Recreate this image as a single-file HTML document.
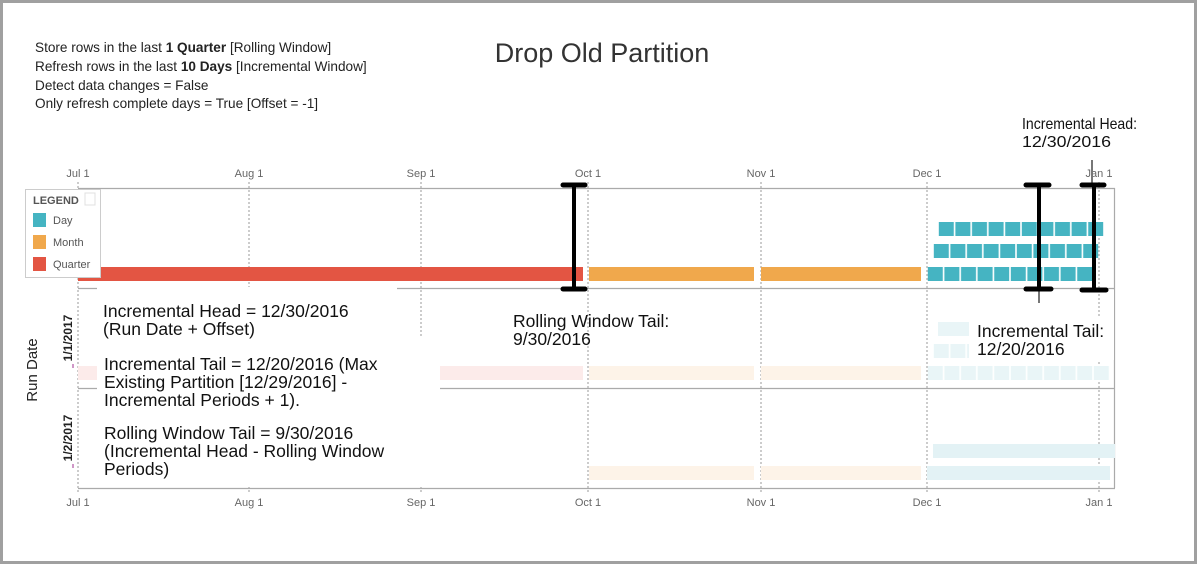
<!DOCTYPE html>
<html><head><meta charset="utf-8"><style>
html,body{margin:0;padding:0;background:#fff}
svg{display:block;font-family:"Segoe UI","Liberation Sans",sans-serif}
</style></head><body>
<svg width="1199" height="566" viewBox="0 0 1199 566" xmlns="http://www.w3.org/2000/svg">
<defs>
<pattern id="d1" x="927" y="0" width="16.6" height="566" patternUnits="userSpaceOnUse"><rect x="0.8" y="0" width="15" height="566" fill="#45b4c2"/></pattern>
<pattern id="d2" x="933" y="0" width="16.6" height="566" patternUnits="userSpaceOnUse"><rect x="0.8" y="0" width="15" height="566" fill="#45b4c2"/></pattern>
<pattern id="d3" x="938" y="0" width="16.6" height="566" patternUnits="userSpaceOnUse"><rect x="0.8" y="0" width="15" height="566" fill="#45b4c2"/></pattern>
<pattern id="f1" x="927" y="0" width="16.6" height="566" patternUnits="userSpaceOnUse"><rect x="0.8" y="0" width="15" height="566" fill="#e9f5f7"/></pattern>
<pattern id="f2" x="933" y="0" width="16.6" height="566" patternUnits="userSpaceOnUse"><rect x="0.8" y="0" width="15" height="566" fill="#e9f5f7"/></pattern>
</defs>
<rect x="0" y="0" width="1199" height="566" fill="#fff"/>
<rect x="1.5" y="1.5" width="1194" height="561" fill="none" stroke="#a0a0a0" stroke-width="3"/>

<g font-size="13.6" fill="#222">
<text x="35" y="52">Store rows in the last <tspan font-weight="bold">1 Quarter</tspan> [Rolling Window]</text>
<text x="35" y="71">Refresh rows in the last <tspan font-weight="bold">10 Days</tspan> [Incremental Window]</text>
<text x="35" y="90">Detect data changes = False</text>
<text x="35" y="108">Only refresh complete days = True [Offset = -1]</text>
</g>
<text x="602" y="62" font-size="27" text-anchor="middle" fill="#333">Drop Old Partition</text>
<text x="1022" y="129" font-size="16" fill="#111" textLength="115" lengthAdjust="spacingAndGlyphs">Incremental Head:</text>
<text x="1022" y="147" font-size="16" fill="#111" textLength="89" lengthAdjust="spacingAndGlyphs">12/30/2016</text>

<g font-size="11" fill="#666" text-anchor="middle">
<text x="78" y="177">Jul 1</text><text x="249" y="177">Aug 1</text><text x="421" y="177">Sep 1</text>
<text x="588" y="177">Oct 1</text><text x="761" y="177">Nov 1</text><text x="927" y="177">Dec 1</text><text x="1099" y="177">Jan 1</text>
<text x="78" y="506">Jul 1</text><text x="249" y="506">Aug 1</text><text x="421" y="506">Sep 1</text>
<text x="588" y="506">Oct 1</text><text x="761" y="506">Nov 1</text><text x="927" y="506">Dec 1</text><text x="1099" y="506">Jan 1</text>
</g>
<g stroke="#999" stroke-dasharray="2,2" stroke-width="1">
<line x1="78" y1="182" x2="78" y2="492"/><line x1="249" y1="182" x2="249" y2="492"/><line x1="421" y1="182" x2="421" y2="492"/>
<line x1="588" y1="182" x2="588" y2="492"/><line x1="761" y1="182" x2="761" y2="492"/><line x1="927" y1="182" x2="927" y2="492"/><line x1="1099" y1="182" x2="1099" y2="492"/>
</g>
<g stroke="#aaa" stroke-width="1.2" fill="none">
<line x1="78" y1="188.5" x2="1115" y2="188.5"/>
<line x1="78" y1="288.5" x2="1115" y2="288.5"/>
<line x1="78" y1="388.5" x2="1115" y2="388.5"/>
<line x1="78" y1="488.5" x2="1115" y2="488.5"/>
<line x1="1114.5" y1="188" x2="1114.5" y2="488"/>
</g>

<rect x="78" y="267" width="505" height="14" fill="#e35543"/>
<rect x="589" y="267" width="165" height="14" fill="#f0a84c"/>
<rect x="761" y="267" width="160" height="14" fill="#f0a84c"/>
<rect x="927" y="267" width="166" height="14" fill="url(#d1)"/>
<rect x="933" y="244" width="166" height="14" fill="url(#d2)"/>
<rect x="938" y="222" width="166" height="14" fill="url(#d3)"/>

<rect x="78" y="366" width="505" height="14" fill="#fcebea"/>
<rect x="589" y="366" width="165" height="14" fill="#fdf3e8"/>
<rect x="761" y="366" width="160" height="14" fill="#fdf3e8"/>
<rect x="927" y="366" width="183" height="14" fill="url(#f1)"/>
<rect x="933" y="344" width="36" height="14" fill="url(#f2)"/>
<rect x="938" y="322" width="31" height="14" fill="#e9f5f7"/>
<rect x="589" y="466" width="165" height="14" fill="#fdf3e8"/>
<rect x="761" y="466" width="160" height="14" fill="#fdf3e8"/>
<rect x="927" y="466" width="183" height="14" fill="#e3f2f5"/>
<rect x="933" y="444" width="182" height="14" fill="#e3f2f5"/>

<rect x="97" y="287" width="300" height="200" fill="#fff"/>
<rect x="397" y="337" width="43" height="150" fill="#fff"/>
<rect x="969" y="318" width="145" height="42" fill="#fff"/>
<rect x="1104" y="290" width="10" height="30" fill="#fff"/>

<g font-size="17.5" fill="#111">
<text x="103" y="317">Incremental Head = 12/30/2016</text>
<text x="103" y="335">(Run Date + Offset)</text>
<text x="104" y="370">Incremental Tail = 12/20/2016 (Max</text>
<text x="104" y="388">Existing Partition [12/29/2016] -</text>
<text x="104" y="406">Incremental Periods + 1).</text>
<text x="104" y="439">Rolling Window Tail = 9/30/2016</text>
<text x="104" y="457">(Incremental Head - Rolling Window</text>
<text x="104" y="475">Periods)</text>
<text x="513" y="327">Rolling Window Tail:</text>
<text x="513" y="345">9/30/2016</text>
<text x="977" y="337">Incremental Tail:</text>
<text x="977" y="355">12/20/2016</text>
</g>

<text transform="translate(37,370) rotate(-90)" font-size="15" text-anchor="middle" fill="#222">Run Date</text>
<text transform="translate(72,338) rotate(-90)" font-size="12" font-weight="bold" text-anchor="middle" fill="#222">1/1/2017</text>
<text transform="translate(72,438) rotate(-90)" font-size="12" font-weight="bold" text-anchor="middle" fill="#222">1/2/2017</text>
<line x1="73" y1="364" x2="73" y2="368" stroke="#a03090"/>
<line x1="73" y1="464" x2="73" y2="468" stroke="#a03090"/>

<rect x="25.5" y="189.5" width="75" height="88" fill="#fff" stroke="#ccc"/>
<text x="33" y="204" font-size="11" font-weight="bold" fill="#555">LEGEND</text>
<rect x="85" y="193" width="10" height="12" fill="none" stroke="#e0e0e0"/>
<rect x="33" y="213" width="13" height="14" fill="#45b4c2"/><text x="53" y="224" font-size="11" fill="#555">Day</text>
<rect x="33" y="235" width="13" height="14" fill="#f0a84c"/><text x="53" y="246" font-size="11" fill="#555">Month</text>
<rect x="33" y="257" width="13" height="14" fill="#e35543"/><text x="53" y="268" font-size="11" fill="#555">Quarter</text>

<line x1="1039" y1="288" x2="1039" y2="303" stroke="#777" stroke-width="2"/>
<line x1="1092" y1="160" x2="1092" y2="186" stroke="#777" stroke-width="2"/>
<g stroke="#000" stroke-linecap="round">
<line x1="574" y1="185" x2="574" y2="289" stroke-width="4"/>
<line x1="563" y1="185" x2="585" y2="185" stroke-width="5"/>
<line x1="563" y1="289" x2="585" y2="289" stroke-width="5"/>
<line x1="1039" y1="185" x2="1039" y2="289" stroke-width="4"/>
<line x1="1026" y1="185" x2="1049" y2="185" stroke-width="5"/>
<line x1="1026" y1="289" x2="1051" y2="289" stroke-width="5"/>
<line x1="1094" y1="185" x2="1094" y2="289" stroke-width="4"/>
<line x1="1082" y1="185" x2="1104" y2="185" stroke-width="5"/>
<line x1="1082" y1="290" x2="1106" y2="290" stroke-width="5"/>
</g>
</svg>
</body></html>
